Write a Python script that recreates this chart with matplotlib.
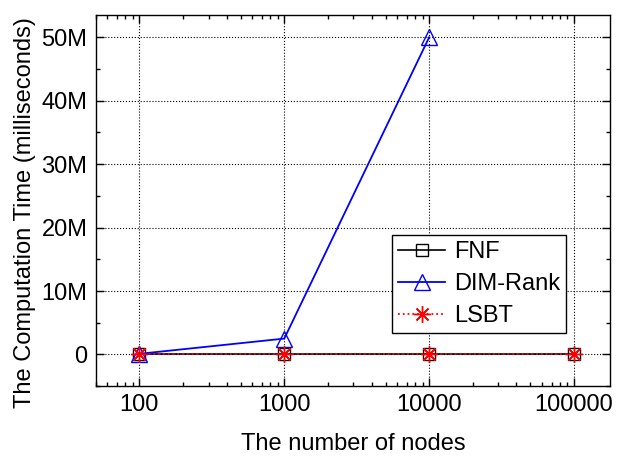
import matplotlib
matplotlib.use('Agg')
import matplotlib.pyplot as plt
from matplotlib.ticker import FuncFormatter, MultipleLocator, LogLocator, NullFormatter
from matplotlib.lines import Line2D

plt.rcParams['font.family'] = ['Liberation Sans', 'DejaVu Sans']

# data
nodes = [100, 1000, 10000, 100000]
fnf = [0, 0, 0, 0]
dim_nodes = [100, 1000, 10000]
dim_rank = [0.1e6, 2.5e6, 50e6]
lsbt = [0, 0, 0, 0]

fig = plt.figure(figsize=(6.18, 4.57), dpi=100)
ax = fig.add_axes([0.155, 0.155, 0.832, 0.812])

ax.plot(nodes, fnf, 'k-', marker='s', markersize=9, markerfacecolor='none',
        markeredgewidth=1, linewidth=1.2, label='FNF')
ax.plot(dim_nodes, dim_rank, color='#0000ff', marker='^', markersize=11,
        markerfacecolor='none', markeredgewidth=1, linewidth=1.3, label='DIM-Rank')
ax.plot(nodes, lsbt, color='#ff0000', linestyle=':', marker=(8, 2, 0), markersize=12,
        markeredgewidth=1, linewidth=1.3, label='LSBT')

ax.set_xscale('log')
ax.set_xlim(50, 177000)
ax.set_ylim(-5e6, 53.5e6)
ax.set_xticks(nodes)
ax.set_xticklabels(['100', '1000', '10000', '100000'])
ax.xaxis.set_minor_locator(LogLocator(base=10, subs=range(2, 10)))
ax.xaxis.set_minor_formatter(NullFormatter())
ax.yaxis.set_major_locator(MultipleLocator(10e6))
ax.yaxis.set_minor_locator(MultipleLocator(5e6))
ax.yaxis.set_major_formatter(FuncFormatter(lambda v, p: '0' if v == 0 else '%dM' % round(v / 1e6)))

ax.tick_params(which='both', direction='in', top=True, right=True, labelsize=17)
ax.tick_params(which='major', length=6, width=1, pad=6)
ax.tick_params(which='minor', length=3, width=1)
ax.grid(True, which='major', linestyle=':', color='black', linewidth=0.8)
for s in ax.spines.values():
    s.set_linewidth(1)

ax.set_xlabel('The number of nodes', fontsize=17, labelpad=12)
ax.set_ylabel('The Computation Time (milliseconds)', fontsize=17)
ax.yaxis.set_label_coords(-0.117, 0.469)

h_fnf = Line2D([], [], color='k', marker='s', markersize=9, markerfacecolor='none', linewidth=1.2)
h_dim = Line2D([], [], color='#0000ff', marker='^', markersize=11, markerfacecolor='none', linewidth=1.3)
h_lsbt = Line2D([], [], color='#ff0000', linestyle=':', marker=(8, 2, 0), markersize=12, linewidth=1.3)
leg = ax.legend([h_fnf, h_dim, h_lsbt], ['FNF', 'DIM-Rank', 'LSBT'], loc='lower right',
                bbox_to_anchor=(0.914, 0.143), fontsize=17, frameon=True, fancybox=False,
                edgecolor='black', framealpha=1, handlelength=2.0, borderpad=0.25,
                labelspacing=0.42, handletextpad=0.35, borderaxespad=0)
leg.get_frame().set_linewidth(1)

fig.savefig('out.png', dpi=100)
